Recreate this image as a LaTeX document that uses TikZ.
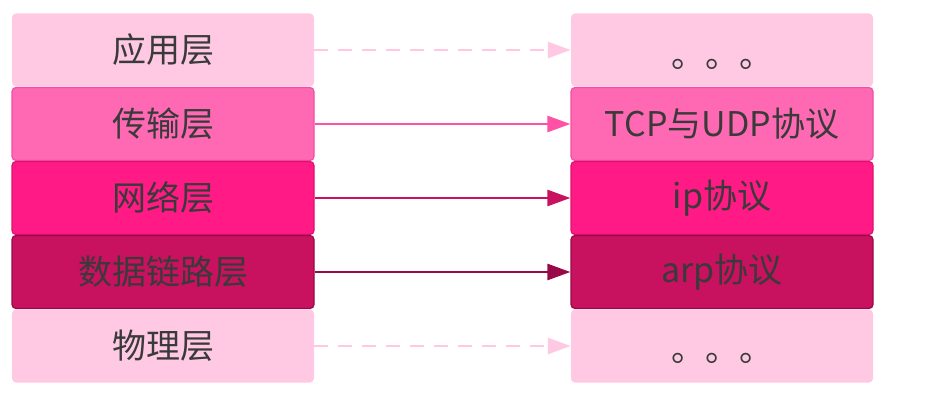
\documentclass[tikz,border=0pt]{standalone}
\usepackage{fontspec}
\setmainfont{Noto Sans CJK SC}
\usetikzlibrary{arrows.meta}
\definecolor{palepink}{HTML}{FFC9E4}
\definecolor{hotpk}{HTML}{FF69B4}
\definecolor{hotpkline}{HTML}{F24FA0}
\definecolor{deeppk}{HTML}{FF1A85}
\definecolor{deeppkline}{HTML}{E0106F}
\definecolor{darkpk}{HTML}{C8115F}
\definecolor{darkpkline}{HTML}{980A47}
\definecolor{txtgray}{HTML}{3A3A3A}
\begin{document}
\begin{tikzpicture}[x=1pt,y=1pt,
  every node/.style={font=\fontsize{34}{40}\selectfont,text=txtgray},
  layer/.style={minimum width=302pt,minimum height=73pt,rounded corners=4pt,inner sep=0pt},
  pale/.style={layer,fill=palepink},
  lvtwo/.style={layer,fill=hotpk,draw=hotpkline,line width=1.2pt},
  lvthree/.style={layer,fill=deeppk,draw=deeppkline,line width=1.2pt},
  lvfour/.style={layer,fill=darkpk,draw=darkpkline,line width=1.2pt},
  link/.style={line width=2.6pt,-{Triangle[length=23pt,width=16pt]}}]
\useasboundingbox (0,0) rectangle (938,416);
% left column
\node[pale]    (app)  at (163,366) {应用层};
\node[lvtwo]   (tran) at (163,292) {传输层};
\node[lvthree] (net)  at (163,218) {网络层};
\node[lvfour]  (link) at (163,144) {数据链路层};
\node[pale]    (phy)  at (163,70)  {物理层};
% right column
\node[pale]    (appP)  at (722,366) {\raisebox{-18pt}[0pt][0pt]{。。。}};
\node[lvtwo]   (tranP) at (722,292) {TCP与UDP协议};
\node[lvthree] (netP)  at (722,218) {ip协议};
\node[lvfour]  (linkP) at (722,144) {arp协议};
\node[pale]    (phyP)  at (722,70)  {\raisebox{-15pt}[0pt][0pt]{。。。}};
% arrows
\draw[link,draw=palepink,dash pattern=on 14pt off 10pt] (app) -- (appP);
\draw[link,draw=hotpk!70!deeppk] (tran) -- (tranP);
\draw[link,draw=darkpk] (net) -- (netP);
\draw[link,draw=darkpkline] (link) -- (linkP);
\draw[link,draw=palepink,dash pattern=on 14pt off 10pt] (phy) -- (phyP);
\end{tikzpicture}
\end{document}
